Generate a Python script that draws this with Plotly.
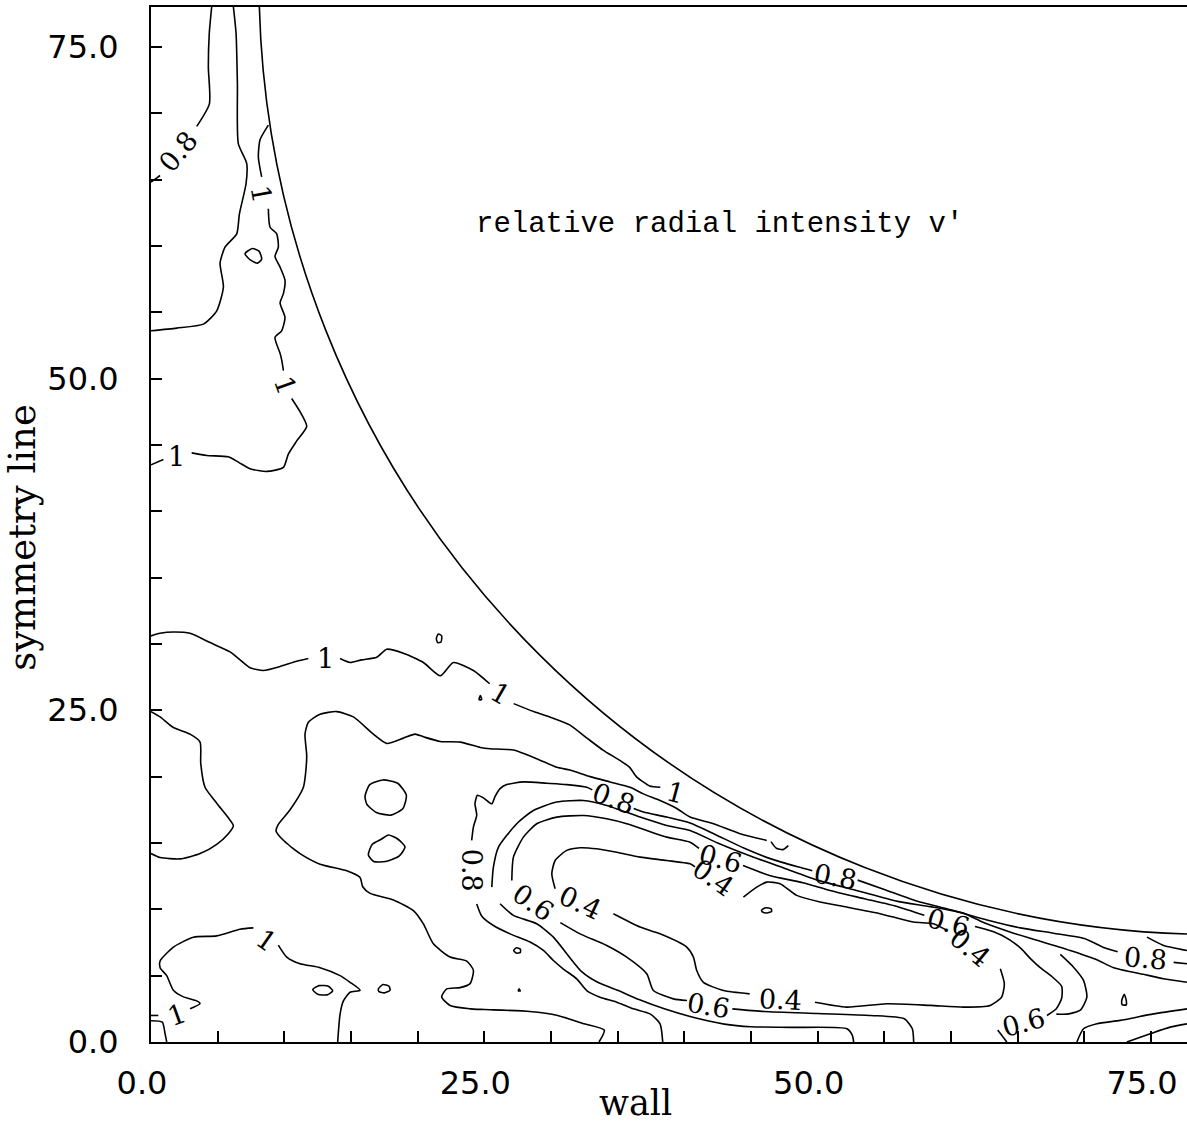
import plotly.graph_objects as go

# ---------------------------------------------------------------------------
# Relative radial turbulence intensity v' in a rod-bundle sub-channel.
# x: distance along the wall, y: distance along the symmetry line.
# Each contour is a list of pieces; pieces are broken where a label sits.
# ---------------------------------------------------------------------------

# rod surface (circle centred on the channel corner)
rod_centre = (80.0, 80.0)
rod_radius = 71.9

# level 0.8, upper-left corner
lvl08_corner = [
    [(4.55, 78.0), (4.37, 76.0), (4.30, 73.5), (4.38, 70.7), (3.43, 69.0)],
    [(0.68, 65.3), (0.0, 64.8)],
]

# unlabelled line next to it
lvl_corner_b = [
    [(6.18, 78.0), (6.38, 76.0), (6.48, 72.2), (6.55, 67.7), (7.18, 66.2), (7.13, 64.7),
     (6.63, 62.4), (6.43, 60.9), (5.55, 59.9), (5.18, 58.7), (5.43, 56.9), (4.93, 55.1),
     (3.93, 54.1), (1.93, 53.8), (0.0, 53.6)],
]

# level 1 along the rod, upper part
lvl1_upper = [
    [(8.80, 69.1), (8.18, 68.0), (8.05, 66.7), (8.30, 65.2)],
    [(8.80, 62.8), (8.93, 61.4), (9.43, 60.9), (9.55, 59.9), (9.30, 59.2), (9.68, 58.4),
     (10.05, 57.4), (9.93, 56.4), (9.68, 55.7), (10.05, 54.6), (9.80, 53.6), (9.30, 53.1),
     (9.68, 51.9), (9.80, 51.4), (9.93, 50.6)],
    [(10.55, 48.5), (11.18, 47.5), (11.68, 46.4), (10.93, 45.3), (10.30, 44.3), (9.93, 43.3),
     (8.68, 43.0), (7.43, 43.2), (6.55, 43.7), (5.80, 44.1), (4.18, 44.2), (3.05, 44.4)],
    [(0.93, 43.9), (0.0, 43.5)],
]

# level 1 crossing the gap region
lvl1_middle = [
    [(0.0, 30.6), (0.68, 30.8), (1.68, 30.9), (2.93, 30.8), (4.43, 30.1), (5.93, 29.4),
     (6.68, 28.8), (7.43, 28.2), (8.43, 28.0), (9.68, 28.3), (10.93, 28.7), (11.8, 28.9)],
    [(14.18, 28.9), (14.93, 28.6), (15.8, 28.8), (16.93, 29.0), (17.68, 29.6), (18.93, 29.3),
     (20.43, 28.6), (21.7, 27.6), (22.68, 28.6), (24.18, 28.0), (25.4, 27.0)],
    [(27.2, 25.5), (28.7, 24.9), (29.9, 24.5), (31.4, 23.9), (32.7, 22.9), (33.9, 22.0),
     (35.2, 21.2), (35.9, 20.7), (36.4, 20.0), (37.4, 19.3), (38.2, 19.2)],
    [(46.5, 15.1), (46.9, 14.6), (47.4, 14.5), (47.8, 14.8)],
]

# level 1 near the wall, lower-left
lvl1_lower = [
    [(14.0, 0.0), (14.18, 2.1), (14.43, 3.1), (14.93, 3.75), (15.68, 3.9), (14.93, 4.5),
     (14.18, 5.0), (12.68, 5.6), (11.18, 5.9), (10.18, 6.4), (9.55, 7.3)],
    [(7.68, 8.6), (6.68, 8.5), (4.93, 8.0), (3.18, 7.9), (1.68, 7.15), (0.68, 6.1),
     (0.68, 5.6), (1.18, 5.0), (1.68, 3.9), (2.43, 3.4), (3.43, 3.1), (3.68, 2.9), (2.93, 2.5)],
    [(0.55, 2.0), (0.0, 2.0)],
]
lvl_corner_h = [[(0.0, 1.6), (0.85, 1.5), (1.05, 0.65), (1.18, 0.0)]]

# lobe on the symmetry line
lvl_lobe = [
    [(0.0, 24.9), (0.68, 24.5), (1.68, 23.7), (2.93, 23.2), (3.68, 22.6), (3.73, 21.0),
     (4.05, 19.2), (4.93, 18.0), (5.8, 16.9), (6.18, 16.3), (5.8, 15.7), (4.93, 14.9),
     (3.68, 14.2), (2.18, 13.8), (0.68, 13.9), (0.0, 14.2)],
]

# unlabelled line around the low-intensity region (0.9)
lvl09 = [
    [(46.18, 15.19), (44.18, 15.7), (42.18, 16.45), (40.43, 16.95), (39.43, 17.6),
     (38.18, 18.2), (36.93, 18.7), (35.93, 19.2), (34.43, 19.6), (32.93, 20.0), (31.43, 20.5),
     (30.43, 20.7), (28.93, 21.35), (27.18, 22.0), (25.43, 22.1), (24.7, 22.2), (23.2, 22.6),
     (21.7, 22.65), (20.43, 23.0), (19.8, 23.2), (18.93, 22.9), (17.68, 22.5), (16.68, 23.2),
     (15.18, 24.5), (13.93, 24.9), (12.68, 24.7), (11.8, 24.1), (11.55, 23.2), (11.68, 21.5),
     (11.43, 19.2), (10.43, 17.5), (9.55, 16.4), (9.38, 15.9), (9.93, 15.2), (11.18, 14.2),
     (12.68, 13.4), (14.68, 12.9), (15.68, 12.4), (15.88, 11.7), (16.43, 11.2), (18.18, 10.7),
     (19.68, 9.9), (20.43, 8.9), (21.18, 7.4), (22.43, 6.4), (23.68, 6.1), (24.18, 5.4),
     (23.93, 4.4), (23.18, 4.1), (22.18, 4.0), (21.8, 3.4), (22.43, 2.75), (23.93, 2.5),
     (25.0, 2.45), (28.4, 2.3), (30.5, 2.0), (32.4, 1.4), (34.0, 0.9), (33.6, 0.0)],
    [(74.7, 7.9), (75.9, 7.3), (77.7, 6.9)],
]

# level 0.8 around the low-intensity region
lvl08 = [
    [(24.05, 15.2), (24.18, 16.2), (24.43, 17.1), (24.3, 17.95), (24.48, 18.6), (24.93, 18.4),
     (25.56, 17.95), (25.8, 18.5), (26.18, 19.1), (26.68, 19.4), (27.93, 19.6), (29.68, 19.5),
     (31.18, 19.4), (32.68, 19.2), (33.1, 19.0)],
    [(36.2, 17.6), (36.93, 17.33), (38.68, 16.95), (40.43, 16.5), (42.2, 15.7), (44.5, 14.6),
     (46.5, 13.8), (48.5, 13.2), (49.6, 12.9)],
    [(53.0, 12.2), (55.0, 11.5), (57.5, 10.6), (60.2, 9.9), (62.7, 9.2), (65.2, 8.6),
     (67.7, 8.2), (70.0, 7.8), (71.4, 7.15), (72.5, 6.8)],
    [(76.7, 6.0), (77.7, 5.9)],
    [(24.43, 10.4), (24.8, 9.5), (25.68, 8.78), (26.93, 8.15), (28.43, 7.53), (29.43, 6.9),
     (30.18, 6.14), (30.93, 5.5), (31.93, 4.76), (32.68, 3.88), (33.68, 3.38), (34.93, 3.0),
     (36.18, 2.5), (37.43, 2.12), (38.18, 1.37), (38.38, 0.0)],
]

# unlabelled line between 0.8 and 0.6 (0.7)
lvl07 = [
    [(25.56, 11.67), (25.68, 13.18), (26.06, 14.69), (27.43, 16.45), (28.68, 17.45),
     (30.43, 18.08), (32.43, 18.2), (34.18, 17.83), (36.68, 16.95), (38.68, 16.32),
     (40.43, 15.94), (42.5, 15.0), (45.0, 14.0), (47.5, 13.1), (50.0, 12.2), (53.0, 11.4),
     (56.0, 10.6), (58.44, 10.2), (60.94, 9.7), (62.44, 9.0), (64.69, 8.2), (66.69, 7.6),
     (68.94, 6.9), (70.94, 6.2), (72.19, 5.6), (74.44, 5.1), (75.94, 4.77), (77.7, 4.5)],
    [(26.18, 10.42), (27.18, 9.54), (28.93, 8.91), (30.18, 7.9), (31.3, 6.5), (32.3, 5.3),
     (33.5, 4.5), (35.0, 3.9), (36.6, 3.2), (38.5, 2.5), (40.5, 1.9), (43.0, 1.35),
     (45.0, 1.15), (48.0, 1.1), (52.2, 1.0), (52.6, 0.5), (52.7, 0.0)],
    [(68.2, 6.6), (69.19, 5.64), (69.94, 4.64), (70.19, 3.38), (69.7, 2.4), (68.7, 2.1),
     (67.9, 2.1)],
]

# level 0.6
lvl06 = [
    [(27.06, 12.17), (27.18, 13.93), (27.93, 15.44), (28.93, 16.45), (30.43, 16.95),
     (32.43, 17.07), (34.18, 16.82), (35.68, 16.45), (37.18, 15.94), (38.68, 15.44),
     (40.43, 15.06), (41.1, 14.6)],
    [(44.4, 13.3), (46.4, 12.55), (48.9, 12.0), (51.0, 11.4), (53.5, 10.8), (56.0, 10.2),
     (58.0, 9.55)],
    [(61.8, 8.7), (63.2, 8.3), (64.4, 7.7), (65.3, 7.0), (65.94, 6.3), (66.69, 5.6),
     (67.6, 4.9), (68.3, 4.2), (68.3, 3.3), (67.9, 2.5), (67.2, 2.0)],
    [(63.5, 0.9), (64.19, 0.0)],
    [(30.7, 9.0), (32.18, 8.15), (34.18, 7.27), (35.68, 6.39), (37.18, 5.14), (37.68, 3.88),
     (39.18, 3.25), (40.2, 3.13)],
    [(43.6, 2.5), (46.0, 2.3), (50.0, 2.15), (54.0, 2.0), (56.5, 1.75), (57.1, 1.0), (57.2, 0.0)],
]

# level 0.4
lvl04 = [
    [(44.43, 10.92), (45.43, 11.67), (46.18, 12.05), (47.18, 11.93), (48.43, 11.05),
     (50.18, 10.55), (52.18, 10.17), (54.68, 9.67), (57.18, 9.04), (58.68, 8.91), (59.7, 8.4)],
    [(63.7, 5.52), (64.0, 4.39), (63.8, 3.38), (62.94, 2.76), (60.94, 2.63), (58.44, 2.76),
     (55.19, 2.88), (52.18, 2.63), (49.8, 3.0)],
    [(44.9, 3.63), (42.93, 3.88), (41.43, 4.5), (40.93, 5.39), (40.68, 6.4), (40.18, 7.15),
     (38.18, 8.15), (36.68, 8.66), (34.68, 9.66)],
    [(30.31, 11.55), (30.06, 12.68), (30.31, 13.68), (31.18, 14.44), (32.18, 14.64),
     (33.43, 14.56), (34.93, 14.3), (36.68, 13.93), (38.68, 13.68), (40.43, 13.43), (40.8, 13.2)],
]

# lines meeting the wall at the right
lvl_right = [
    [(69.44, 0.0), (69.94, 1.0), (70.94, 1.38), (72.69, 1.63), (75.19, 2.12), (77.7, 2.5)],
    [(73.19, 0.0), (74.94, 0.62), (76.44, 1.12), (77.7, 1.37)],
]

# small closed islands
islands = [
    [(7.05, 59.4), (7.6, 59.8), (8.1, 59.6), (8.3, 59.0), (8.0, 58.7), (7.5, 58.9), (7.05, 59.4)],
    [(16.05, 18.5), (16.4, 19.4), (17.4, 19.75), (18.5, 19.5), (19.15, 18.6), (18.9, 17.6),
     (18.0, 17.1), (16.9, 17.3), (16.2, 17.9), (16.05, 18.5)],
    [(16.3, 14.1), (16.6, 14.9), (17.3, 15.3), (17.8, 15.6), (18.5, 15.3), (19.05, 14.7),
     (18.6, 14.0), (17.6, 13.6), (16.7, 13.6), (16.3, 14.1)],
    [(12.13, 3.95), (12.6, 4.25), (13.3, 4.2), (13.63, 3.85), (13.2, 3.55), (12.5, 3.6), (12.13, 3.95)],
    [(17.05, 4.0), (17.4, 4.33), (17.85, 4.2), (17.93, 3.9), (17.5, 3.7), (17.1, 3.8), (17.05, 4.0)],
    [(21.4, 30.4), (21.55, 30.75), (21.8, 30.6), (21.75, 30.15), (21.5, 30.1), (21.4, 30.4)],
    [(24.6, 25.8), (24.7, 26.1), (24.8, 25.8), (24.6, 25.8)],
    [(27.2, 6.9), (27.4, 7.1), (27.7, 7.0), (27.7, 6.75), (27.4, 6.7), (27.2, 6.9)],
    [(27.55, 3.85), (27.6, 4.0), (27.7, 3.85), (27.55, 3.85)],
    [(45.8, 9.95), (46.1, 10.12), (46.5, 10.05), (46.55, 9.85), (46.2, 9.72), (45.85, 9.8), (45.8, 9.95)],
    [(72.85, 2.8), (72.8, 3.1), (73.0, 3.6), (73.15, 3.1), (73.15, 2.8), (72.85, 2.8)],
]

# inline contour labels: text, x, y, rotation (deg, clockwise)
contour_labels = [
    ("0.8", 2.05, 67.1, -50), ("1", 8.3, 63.9, 80), ("1", 10.1, 49.5, 70),
    ("1", 1.93, 44.1, 0), ("1", 13.05, 28.9, 0), ("1", 26.2, 26.3, 30),
    ("1", 39.3, 18.8, 15), ("1", 8.68, 7.65, 35), ("1", 1.93, 2.1, -20),
    ("0.8", 24.05, 12.93, 90), ("0.8", 34.68, 18.33, 20), ("0.8", 51.3, 12.5, 10),
    ("0.8", 74.56, 6.27, 5), ("0.6", 28.68, 10.54, 35), ("0.6", 42.68, 13.81, 15),
    ("0.6", 59.8, 9.04, 15), ("0.6", 41.8, 2.76, 10), ("0.6", 65.44, 1.5, -15),
    ("0.4", 32.18, 10.54, 25), ("0.4", 42.18, 12.43, 35), ("0.4", 61.44, 7.15, 40),
    ("0.4", 47.18, 3.2, 3),
]

tick_vals = list(range(0, 80, 5))
major_labels = {0: "0.0", 25: "25.0", 50: "50.0", 75: "75.0"}
tick_text = [major_labels.get(v, "") for v in tick_vals]

x_range = [0, 77.7]
y_range = [0, 78.0]


def flatten(pieces):
    xs, ys = [], []
    for piece in pieces:
        for px, py in piece:
            xs.append(px)
            ys.append(py)
        xs.append(None)
        ys.append(None)
    return xs, ys


fig = go.Figure()

line_style = dict(color="black", width=1.6, shape="spline", smoothing=0.6)
for pieces in [lvl08_corner, lvl_corner_b, lvl1_upper, lvl1_middle, lvl1_lower, lvl_corner_h,
               lvl_lobe, lvl09, lvl08, lvl07, lvl06, lvl04, lvl_right, islands]:
    xs, ys = flatten(pieces)
    fig.add_trace(go.Scatter(x=xs, y=ys, mode="lines", line=line_style,
                             hoverinfo="skip", showlegend=False))

cx, cy = rod_centre
fig.add_shape(type="circle", xref="x", yref="y",
              x0=cx - rod_radius, x1=cx + rod_radius, y0=cy - rod_radius, y1=cy + rod_radius,
              line=dict(color="black", width=1.6))

for text, lx, ly, ang in contour_labels:
    fig.add_annotation(x=lx, y=ly, text=text, showarrow=False, textangle=ang,
                       font=dict(family="DejaVu Serif", size=27, color="black"))

fig.add_annotation(x=42.6, y=61.6, text="relative radial intensity v\u2032", showarrow=False,
                   font=dict(family="Liberation Mono", size=29, color="black"))

fig.add_annotation(x=36.3, y=0, yref="paper", yshift=-61, yanchor="middle", text="wall",
                   showarrow=False, font=dict(family="DejaVu Serif", size=35, color="black"))
fig.add_annotation(x=0, xref="paper", xshift=-128, xanchor="center", y=38.0,
                   text="symmetry line", textangle=-90, showarrow=False,
                   font=dict(family="DejaVu Serif", size=37, color="black"))

axis_common = dict(showgrid=False, zeroline=False, showline=True, linecolor="black",
                   linewidth=2, ticks="inside", ticklen=11, tickwidth=1.5, tickcolor="black",
                   tickvals=tick_vals, ticktext=tick_text,
                   tickfont=dict(family="DejaVu Sans", size=32, color="black"))

fig.update_xaxes(range=x_range, mirror=True, ticklabelstandoff=12, ticklabelshift=-9,
                 **axis_common)
fig.update_yaxes(range=y_range, mirror=False, ticklabelstandoff=24, **axis_common)

fig.update_layout(width=1187, height=1128, margin=dict(l=151, r=0, t=7, b=86),
                  plot_bgcolor="white", paper_bgcolor="white")

fig.write_html("out.html")
